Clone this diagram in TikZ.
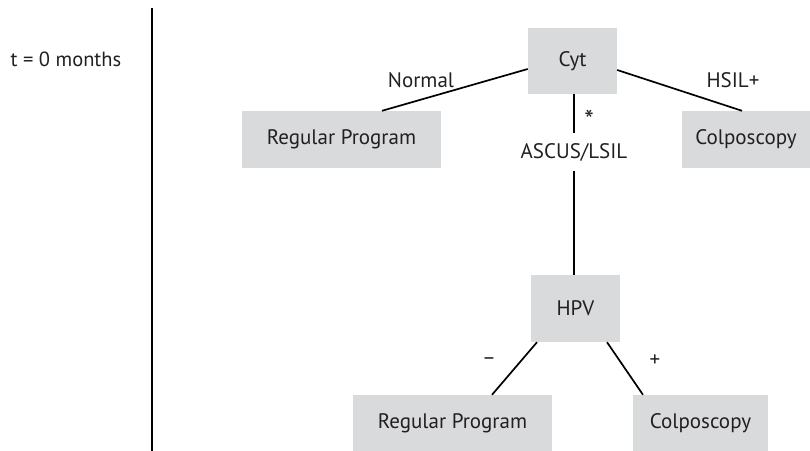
\documentclass[tikz,border=0pt]{standalone}
\usepackage{fontspec}
\setmainfont{PT Sans}
\definecolor{boxgray}{HTML}{D9DADB}
\definecolor{ink}{HTML}{231F20}
\begin{document}
\begin{tikzpicture}[x=1bp,y=-1bp,
  every node/.style={text=ink,font=\fontsize{21bp}{25bp}\selectfont,inner sep=0pt},
  box/.style={fill=boxgray,minimum width=#1,anchor=center},
  lbl/.style={font=\fontsize{21bp}{25bp}\selectfont},
  conn/.style={line width=1.7bp,draw=black}]
\useasboundingbox (0,0) rectangle (810,451);
% time label and divider
\node[font=\fontsize{20.5bp}{25bp}\selectfont] (tlabel) at (66,59) {t = 0 months};
\coordinate (divtop) at (152,8);
\coordinate (divbot) at (152,451);
\draw[conn] (divtop) -- (divbot);
% boxes
\node[box=89bp,minimum height=66bp] (cyt) at (572.5,61) {Cyt};
\node[box=199bp,minimum height=57bp] (rp1) at (341.5,139.5) {Regular Program};
\node[box=128bp,minimum height=57bp] (col1) at (746,139.5) {Colposcopy};
\node[box=89bp,minimum height=67bp] (hpv) at (575.5,308.5) {HPV};
\node[box=199bp,minimum height=56bp] (rp2) at (452.5,423) {Regular Program};
\node[box=135bp,minimum height=56bp] (col2) at (700.5,423) {Colposcopy};
% middle label
\node[minimum height=38bp] (ascus) at (574,152) {ASCUS/LSIL};
% connectors
\draw[conn] ([yshift=-8bp]cyt.west) -- ([xshift=40.5bp]rp1.north);
\draw[conn] ([yshift=-9bp]cyt.east) -- ([xshift=-4bp]col1.north);
\draw[conn] ([xshift=1.5bp]cyt.south) -- (ascus.north);
\draw[conn] (ascus.south) -- ([xshift=-1.5bp]hpv.north);
\draw[conn] ([xshift=-38.5bp]hpv.south) -- ([xshift=39.5bp]rp2.north);
\draw[conn] ([xshift=31.5bp]hpv.south) -- ([xshift=-57.5bp]col2.north);
% labels
\node[lbl] (lnormal) at (421,80) {Normal};
\node[lbl] (lhsil) at (733,80) {HSIL+};
\node[font=\fontsize{27bp}{30bp}\selectfont] (lstar) at (589,120) {*};
\node[lbl] (lminus) at (489,361) {\textendash};
\node[lbl] (lplus) at (655,361) {+};
\end{tikzpicture}
\end{document}
